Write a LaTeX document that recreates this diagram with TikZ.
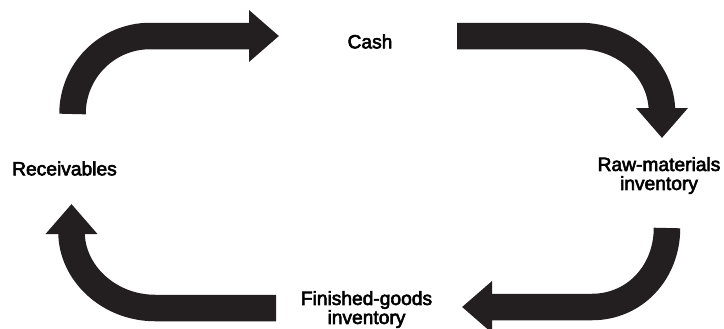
\documentclass[tikz,border=0pt]{standalone}
\usepackage{fontspec}
\setmainfont{Liberation Sans}
\newfontfamily\stagefont[FakeBold=3]{Liberation Sans}
\usetikzlibrary{arrows.meta}
\definecolor{cycleblack}{RGB}{35,31,32}

\begin{document}
\begin{tikzpicture}[x=0.5pt,y=-0.5pt,
  stage/.style={font=\stagefont\fontsize{9.6}{9.5}\selectfont,align=center,inner sep=0pt},
  flow/.style={draw=cycleblack,line width=13.25pt,-{Triangle[width=25pt,length=15pt]}},
  ]
  \useasboundingbox (0,0) rectangle (724,328);

  \node[stage] (cash) at (370,41.5) {Cash};
  \node[stage] (raw) at (659,175.5) {Raw-materials\\inventory};
  \node[stage] (finished) at (366.5,309.5) {Finished-goods\\inventory};
  \node[stage] (receivables) at (64.5,168.5) {Receivables};

  \coordinate (recvout) at (72.5,114);
  \coordinate (cashin) at (279,36);
  \coordinate (cashout) at (457,36);
  \coordinate (rawin) at (662,138);
  \coordinate (rawout) at (667,228);
  \coordinate (finishedin) at (462,307);
  \coordinate (finishedout) at (276,308);
  \coordinate (recvin) at (71.5,204);

  \draw[flow] (recvout) .. controls (72.5,71) and (107,36) .. (150,36) -- (cashin);
  \draw[flow] (cashout) -- (580,36) .. controls (625,36) and (662,70) .. (662,112) -- (rawin);
  \draw[flow] (rawout) .. controls (667,272) and (635,307) .. (592,307) -- (finishedin);
  \draw[flow] (finishedout) -- (155,308) .. controls (109,308) and (71.5,273) .. (71.5,232) -- (recvin);
\end{tikzpicture}
\end{document}
